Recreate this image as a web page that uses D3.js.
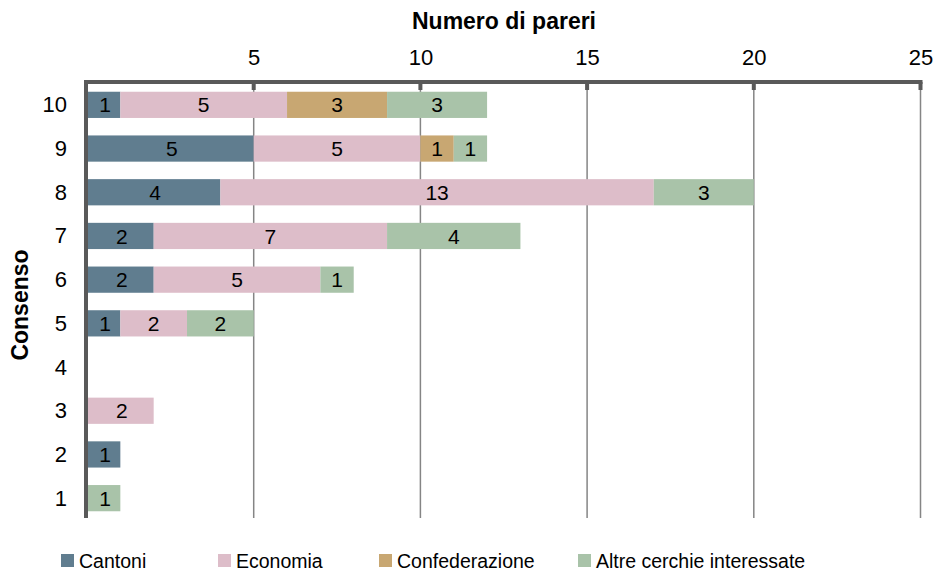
<!DOCTYPE html>
<html lang="it">
<head>
<meta charset="utf-8">
<title>Consenso</title>
<script src="https://d3js.org/d3.v7.min.js"></script>
<style>
  body { margin: 0; background: #fff; }
  svg { font-family: "Liberation Sans", Arial, sans-serif; }
</style>
</head>
<body>
<div id="chart"></div>
<script>
// data
const levels = ["10", "9", "8", "7", "6", "5", "4", "3", "2", "1"];
const seriesNames = ["Cantoni", "Economia", "Confederazione", "Altre cerchie interessate"];
const cantoni        = [1, 5, 4, 2, 2, 1, 0, 0, 1, 0];
const economia       = [5, 5, 13, 7, 5, 2, 0, 2, 0, 0];
const confederazione = [3, 1, 0, 0, 0, 0, 0, 0, 0, 0];
const altre          = [3, 1, 3, 4, 1, 2, 0, 0, 0, 1];
const xTicks = [5, 10, 15, 20, 25];

const colors = ["#607d8f", "#ddbdc9", "#c8a772", "#a9c3a9"];

const width = 938, height = 572;
const svg = d3.select("#chart").append("svg")
  .attr("width", width).attr("height", height);

const rows = levels.map((l, i) => ({
  level: l,
  vals: [cantoni[i], economia[i], confederazione[i], altre[i]]
}));

const x = d3.scaleLinear().domain([0, 25]).range([87, 920.5]);
const y = d3.scaleBand().domain(levels).range([83, 520])
  .paddingInner(0.4).paddingOuter(0.2);

const axisY = 82, gridBottom = 518;

// gridlines
svg.append("g").selectAll("line").data(xTicks).enter().append("line")
  .attr("x1", d => x(d)).attr("x2", d => x(d))
  .attr("y1", axisY).attr("y2", gridBottom)
  .attr("stroke", "#858585").attr("stroke-width", 1.5);

// bars
const stack = rows.map(r => {
  let acc = 0;
  return r.vals.map((v, k) => {
    const seg = { level: r.level, k: k, v: v, x0: acc, x1: acc + v };
    acc += v;
    return seg;
  }).filter(s => s.v > 0);
}).flat();

svg.append("g").selectAll("rect").data(stack).enter().append("rect")
  .attr("x", d => x(d.x0)).attr("width", d => x(d.x1) - x(d.x0))
  .attr("y", d => y(d.level)).attr("height", y.bandwidth())
  .attr("fill", d => colors[d.k]);

svg.append("g").selectAll("text").data(stack).enter().append("text")
  .attr("x", d => (x(d.x0) + x(d.x1)) / 2 + (d.x0 === 0 ? 1.5 : 0))
  .attr("y", d => y(d.level) + y.bandwidth() / 2)
  .attr("dy", "0.36em")
  .attr("text-anchor", "middle")
  .attr("font-size", 21)
  .attr("fill", "#000")
  .text(d => d.v);

// top axis
const xAxis = d3.axisTop(x).tickValues(xTicks).tickSize(0).tickPadding(17);
const gx = svg.append("g").attr("transform", `translate(0,${axisY})`).call(xAxis);
gx.select(".domain").remove();
gx.selectAll("text").attr("font-size", 22).attr("fill", "#000")
  .attr("font-family", "Liberation Sans, Arial, sans-serif");

// tick marks below axis
svg.append("g").selectAll("line").data(xTicks).enter().append("line")
  .attr("x1", d => x(d)).attr("x2", d => x(d))
  .attr("y1", axisY).attr("y2", axisY + 8)
  .attr("stroke", "#595959").attr("stroke-width", 4);

svg.append("line")
  .attr("x1", 84).attr("x2", x(25) + 2)
  .attr("y1", axisY).attr("y2", axisY)
  .attr("stroke", "#595959").attr("stroke-width", 4);

// left axis
svg.append("line")
  .attr("x1", 86).attr("x2", 86)
  .attr("y1", axisY - 2).attr("y2", gridBottom)
  .attr("stroke", "#595959").attr("stroke-width", 4);

const yAxis = d3.axisLeft(y).tickSize(0).tickPadding(0);
const gy = svg.append("g").attr("transform", "translate(67,0)").call(yAxis);
gy.select(".domain").remove();
gy.selectAll("text").attr("font-size", 22).attr("fill", "#000")
  .attr("dy", "0.34em")
  .attr("font-family", "Liberation Sans, Arial, sans-serif");

// titles
svg.append("text")
  .attr("x", 504).attr("y", 29)
  .attr("text-anchor", "middle")
  .attr("font-size", 23).attr("font-weight", "bold")
  .text("Numero di pareri");

svg.append("text")
  .attr("transform", "translate(28,305) rotate(-90)")
  .attr("text-anchor", "middle")
  .attr("font-size", 23).attr("font-weight", "bold")
  .text("Consenso");

// legend
const legendX = [61, 218, 379, 578];
const lg = svg.append("g").selectAll("g").data(seriesNames).enter().append("g")
  .attr("transform", (d, i) => `translate(${legendX[i]},554)`);
lg.append("rect").attr("width", 13).attr("height", 13)
  .attr("fill", (d, i) => colors[i]);
lg.append("text").attr("x", 18).attr("y", 14)
  .attr("font-size", 19.5).text(d => d);
</script>
</body>
</html>
